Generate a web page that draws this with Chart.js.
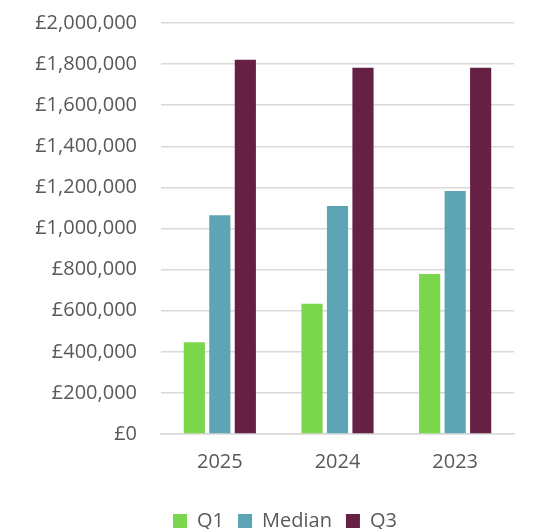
<!DOCTYPE html>
<html>
<head>
<meta charset="utf-8">
<script src="https://cdn.jsdelivr.net/npm/chart.js@4"></script>
<style>
  html, body { margin: 0; padding: 0; background: #ffffff; overflow: hidden; }
  #wrap { width: 534px; height: 529px; overflow: hidden; }
  /* canvas is drawn a little taller and lifted so the top gridline sits near the edge */
  #pay-chart { display: block; margin-top: -9px; }
</style>
</head>
<body>
<div id="wrap"><canvas id="pay-chart" width="534" height="543"></canvas></div>
<script>
const years = ["2025", "2024", "2023"];
const q1Values = [447000, 634000, 779000];
const medianValues = [1065000, 1109000, 1182000];
const q3Values = [1821000, 1782000, 1782000];

const SERIES_COLORS = {
  Q1: "#7AD64A",
  Median: "#5DA4B4",
  Q3: "#662044",
};

const TEXT_COLOR = "#595959";
const GRID_COLOR = "#D9D9D9";
const FONT = "'Open Sans', 'Liberation Sans', sans-serif";

const makeDataset = (label, values) => ({
  label: label,
  data: values,
  backgroundColor: SERIES_COLORS[label],
  borderWidth: 0,
  categoryPercentage: 0.65,
  barPercentage: 0.83,
});

const gbp = (v) => "£" + Number(v).toLocaleString("en-GB");

// Nudge the legend right and down, like the Excel original
const legendNudge = {
  id: "legendNudge",
  afterLayout: (chart) => {
    const legend = chart.legend;
    if (!legend) return;
    legend.left += 28;
    legend.right += 28;
    legend.top += 7;
    legend.bottom += 7;
  },
};

const canvas = document.getElementById("pay-chart");
new Chart(canvas, {
  type: "bar",
  data: {
    labels: years,
    datasets: [
      makeDataset("Q1", q1Values),
      makeDataset("Median", medianValues),
      makeDataset("Q3", q3Values),
    ],
  },
  options: {
    responsive: false,
    animation: false,
    layout: { padding: { top: 0, right: 20, bottom: 0, left: 0 } },
    plugins: {
      tooltip: { enabled: false },
      legend: {
        position: "bottom",
        labels: {
          color: TEXT_COLOR,
          font: { family: FONT, size: 20 },
          boxWidth: 14,
          boxHeight: 14,
          padding: 14,
        },
      },
    },
    scales: {
      x: {
        grid: { display: false, drawTicks: false },
        border: { display: true, color: GRID_COLOR, width: 1.5 },
        ticks: { color: TEXT_COLOR, font: { family: FONT, size: 20 }, padding: 16 },
      },
      y: {
        min: 0,
        max: 2000000,
        grid: { color: GRID_COLOR, lineWidth: 1.5, drawTicks: false },
        border: { display: false },
        ticks: {
          stepSize: 200000,
          color: TEXT_COLOR,
          font: { family: FONT, size: 20, lineHeight: 0.8 },
          padding: 24,
          callback: (value) => gbp(value),
        },
        afterFit: (scale) => {
          scale.width = 161;
        },
      },
    },
  },
  plugins: [legendNudge],
});
</script>
</body>
</html>
